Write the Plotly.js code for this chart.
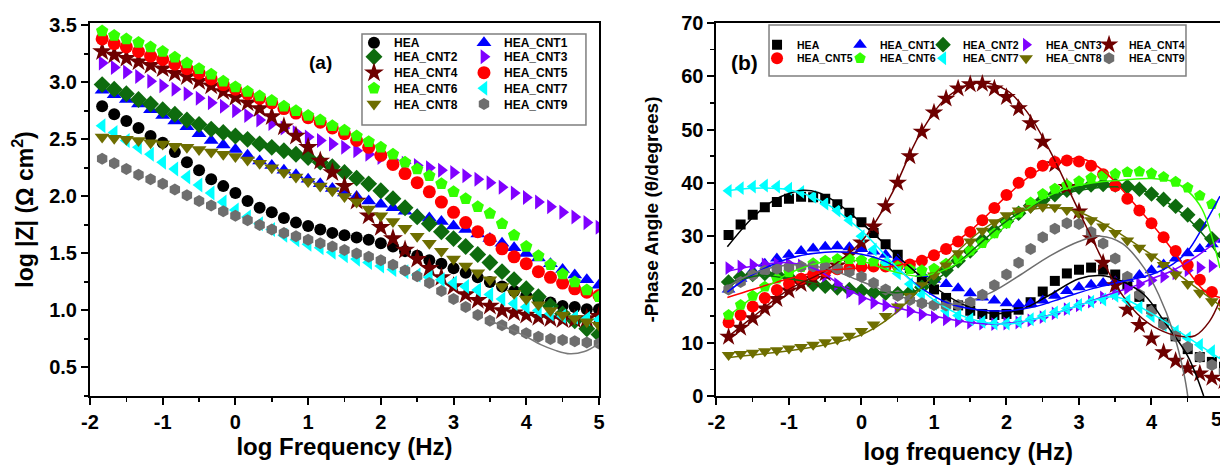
<!DOCTYPE html>
<html><head><meta charset="utf-8">
<script src="https://cdn.plot.ly/plotly-3.0.1.min.js"></script>
<style>html,body{margin:0;padding:0;background:#fff}#chart{width:1220px;height:465px}</style>
</head><body><div id="chart"></div>
<script>
// ---------- shared frequency grid (log Hz) ----------
const logF = [-1.833,-1.667,-1.5,-1.333,-1.167,-1.0,-0.833,-0.667,-0.5,-0.333,-0.167,0,
  0.167,0.333,0.5,0.667,0.833,1.0,1.167,1.333,1.5,1.667,1.833,2.0,2.167,2.333,2.5,2.667,
  2.833,3.0,3.167,3.333,3.5,3.667,3.833,4.0,4.167,4.333,4.5,4.667,4.833,5.0];

const seriesNames = ['HEA','HEA_CNT1','HEA_CNT2','HEA_CNT3','HEA_CNT4','HEA_CNT5','HEA_CNT6','HEA_CNT7','HEA_CNT8','HEA_CNT9'];

// ---------- panel (a): log |Z| ----------
const zHEA  = [2.79,2.72,2.66,2.60,2.53,2.47, 2.39,2.30,2.23,2.15,2.09,2.03, 1.96,1.90,1.86,1.81,1.77,1.74, 1.71,1.68,1.66,1.64,1.62,1.59, 1.56,1.52,1.48,1.44,1.41,1.37, 1.33,1.29,1.25,1.21,1.17,1.13, 1.10,1.07,1.04,1.03,1.01,1.01];
const zCNT1 = [2.93,2.89,2.85,2.81,2.76,2.71, 2.66,2.61,2.55,2.49,2.45,2.41, 2.36,2.31,2.27,2.23,2.19,2.15, 2.11,2.07,2.03,2.00,1.96,1.93, 1.90,1.87,1.84,1.81,1.78,1.74, 1.71,1.67,1.63,1.59,1.55,1.50, 1.46,1.41,1.36,1.31,1.27,1.22];
const zCNT2 = [2.98,2.94,2.90,2.85,2.81,2.76, 2.72,2.67,2.63,2.59,2.56,2.53, 2.50,2.46,2.43,2.40,2.37,2.34, 2.30,2.26,2.21,2.16,2.11,2.05, 1.98,1.90,1.82,1.76,1.69,1.63, 1.56,1.49,1.42,1.34,1.27,1.19, 1.12,1.04,0.97,0.91,0.84,0.79];
const zCNT3 = [3.17,3.13,3.09,3.05,3.01,2.97, 2.94,2.90,2.86,2.82,2.79,2.75, 2.71,2.67,2.64,2.60,2.56,2.52, 2.49,2.46,2.43,2.40,2.37,2.34, 2.32,2.29,2.27,2.25,2.23,2.21, 2.18,2.15,2.12,2.08,2.03,1.99, 1.95,1.91,1.86,1.82,1.77,1.73];
const zCNT4 = [3.27,3.24,3.21,3.18,3.15,3.12, 3.08,3.05,3.01,2.97,2.92,2.87, 2.82,2.77,2.70,2.61,2.53,2.43, 2.31,2.21,2.09,1.96,1.83,1.73, 1.63,1.53,1.45,1.37,1.29,1.21, 1.14,1.09,1.04,1.00,0.98,0.96, 0.94,0.93,0.92,0.92,0.93,0.95];
const zCNT5 = [3.38,3.34,3.31,3.27,3.23,3.20, 3.16,3.12,3.08,3.03,2.98,2.94, 2.90,2.86,2.82,2.77,2.73,2.69, 2.65,2.60,2.55,2.49,2.43,2.36, 2.28,2.20,2.12,2.04,1.95,1.86, 1.77,1.69,1.62,1.54,1.47,1.41, 1.34,1.29,1.24,1.19,1.16,1.13];
const zCNT6 = [3.45,3.41,3.38,3.35,3.31,3.27, 3.22,3.17,3.12,3.07,3.01,2.96, 2.92,2.88,2.84,2.79,2.75,2.71, 2.67,2.62,2.58,2.53,2.48,2.43, 2.37,2.30,2.24,2.18,2.11,2.04, 1.98,1.91,1.85,1.76,1.66,1.56, 1.48,1.40,1.32,1.25,1.18,1.12];
const zCNT7 = [2.62,2.56,2.49,2.43,2.37,2.30, 2.24,2.17,2.10,2.03,1.95,1.88, 1.82,1.76,1.71,1.66,1.62,1.58, 1.55,1.51,1.48,1.45,1.42,1.39, 1.36,1.34,1.31,1.29,1.27,1.24, 1.21,1.18,1.14,1.10,1.06,1.03, 1.00,0.97,0.95,0.94,0.93,0.92];
const zCNT8 = [2.52,2.51,2.50,2.49,2.47,2.46, 2.44,2.43,2.41,2.39,2.37,2.35, 2.32,2.29,2.25,2.21,2.17,2.13, 2.09,2.05,2.00,1.95,1.89,1.83, 1.78,1.72,1.65,1.59,1.52,1.45, 1.39,1.33,1.27,1.21,1.15,1.10, 1.05,1.00,0.96,0.93,0.90,0.87];
const zCNT9 = [2.33,2.29,2.24,2.19,2.15,2.11, 2.06,2.01,1.96,1.92,1.87,1.83, 1.79,1.75,1.71,1.68,1.65,1.62, 1.59,1.56,1.53,1.50,1.47,1.44, 1.40,1.35,1.30,1.24,1.17,1.10, 1.03,0.96,0.91,0.87,0.83,0.80, 0.77,0.75,0.74,0.73,0.72,0.71];
// fitted curve visible for HEA_CNT9
const zFit9X = [3.5,3.8,4.0,4.2,4.4,4.6,4.8,5.0];
const zFit9Y = [0.91,0.83,0.77,0.70,0.65,0.62,0.64,0.71];

// ---------- panel (b): -phase angle ----------
const pHEA  = [30.2,32.2,34.0,35.4,36.4,37.0, 37.4,37.3,37.0,36.0,34.4,32.6, 30.6,28.5,26.5,24.0,21.8,20.0, 18.4,17.0,16.0,15.4,15.2,15.4, 16.2,17.6,19.6,21.6,23.0,23.7, 24.1,23.7,22.8,20.8,18.6,16.3, 13.8,11.2,8.8,7.3,6.4,5.5];
const pCNT1 = [20.0,22.0,23.5,24.8,25.8,26.5, 27.2,27.7,28.0,28.1,27.9,27.6, 27.1,26.5,25.6,24.2,22.9,21.8, 21.0,20.2,19.3,18.5,17.9,17.4, 17.2,17.4,17.9,18.8,19.7,20.4, 20.9,21.2,21.5,22.0,22.7,23.6, 24.7,25.8,26.8,27.6,28.5,29.3];
const pCNT2 = [21.4,22.3,22.8,23.0,22.8,22.3, 21.7,21.0,20.6,20.3,20.0,19.7, 19.4,19.3,19.2,19.4,20.4,22.0, 23.6,25.4,27.2,29.2,31.0,32.8, 34.3,35.7,36.8,37.8,38.6,39.2, 39.6,39.7,39.6,39.3,38.8,37.9, 36.9,35.6,34.0,32.0,29.5,26.5];
const pCNT3 = [24.0,24.3,24.6,24.7,24.8,24.8, 24.5,23.8,22.6,21.0,19.5,18.3, 17.5,17.0,16.5,15.9,15.3,14.8, 14.4,14.1,13.8,13.6,13.5,13.6, 13.8,14.2,14.8,15.5,16.3,17.0, 17.7,18.5,19.3,20.2,21.0,21.7, 22.4,23.0,23.6,24.1,24.4,24.6];
const pCNT4 = [11.1,12.8,14.6,16.4,18.2,19.8, 21.0,22.0,23.0,24.5,26.5,28.8, 31.8,35.6,40.0,45.0,49.6,53.2, 55.8,57.7,58.5,58.6,57.7,56.1, 54.0,51.2,47.7,43.5,39.2,34.6, 29.6,25.0,20.8,16.2,13.3,10.8, 8.2,6.6,5.2,4.2,3.4,2.8];
const pCNT5 = [13.8,15.2,16.8,18.4,19.9,21.0, 22.0,22.8,23.4,23.8,24.0,24.2, 24.3,24.3,24.4,24.7,25.4,26.4, 27.6,29.0,30.8,33.0,35.3,37.7, 40.0,41.9,43.2,43.9,44.2,44.0, 43.2,41.6,39.4,37.0,34.8,32.4, 29.8,27.2,24.6,21.8,19.5,17.5];
const pCNT6 = [15.2,17.1,18.8,20.5,22.0,23.2, 24.2,24.9,25.4,25.7,25.7,25.5, 25.2,24.8,24.3,23.8,23.6,23.9, 24.8,25.8,27.3,28.7,30.5,32.4, 34.4,36.3,37.9,38.9,39.6,40.3, 40.9,41.4,41.7,42.0,42.1,41.8, 41.1,40.2,39.1,37.6,36.0,33.8];
const pCNT7 = [38.5,39.0,39.3,39.5,39.3,38.9, 38.3,37.4,36.1,34.8,33.0,30.0, 27.5,25.0,23.0,21.0,19.0,17.3, 16.0,15.1,14.4,13.9,13.6,13.6, 13.9,14.4,15.0,15.7,16.4,17.1, 17.7,18.1,18.8,17.9,16.6,15.0, 13.3,12.1,10.9,9.6,8.4,7.2];
const pCNT8 = [7.7,7.9,8.1,8.4,8.6,8.9, 9.2,9.6,10.1,10.6,11.3,12.2, 13.4,15.0,16.8,18.8,20.8,22.6, 24.5,26.8,29.0,31.0,32.6,33.9, 34.8,35.3,35.5,35.4,34.9,34.2, 33.0,31.8,30.6,29.2,27.8,26.2, 24.6,22.8,21.0,19.4,17.8,16.0];
const pCNT9 = [20.0,21.4,22.7,23.5,23.9,24.2, 24.3,24.3,24.2,23.9,23.3,22.4, 21.2,20.0,18.8,18.0,17.4,17.1, 17.0,17.1,17.6,19.0,20.8,22.8, 25.0,27.6,29.8,31.4,32.4,32.3, 30.8,28.6,25.8,22.4,19.0,16.0, 13.4,11.2,9.2,7.3,5.8,4.6];

// fitted curves in panel (b)
const fHEA_x  = [-1.85,-1.5,-1.2,-1.0,-0.8,-0.6,-0.4,-0.2,0,0.3,0.6,1.0,1.4,1.8,2.2,2.6,3.0,3.3,3.6,3.9,4.2,4.5,4.72];
const fHEA_y  = [28,33.5,36.8,38.0,38.6,38.2,36.8,34.8,32.5,28.8,25.0,20.5,17.2,15.5,16.2,19.0,22.0,22.6,21.5,19.0,13.5,7.5,0];
const fCNT1_x = [-1.85,-1.5,-1.0,-0.5,0,0.4,0.8,1.2,1.6,2.0,2.4,2.8,3.2,3.6,4.0,4.3,4.5,4.7,4.945];
const fCNT1_y = [19.5,22.8,25.8,27.0,26.6,24.8,20.5,17.4,16.2,16.0,16.8,18.5,20.2,21.5,22.8,24.8,27.2,31.5,37.5];
const fCNT2_x = [-1.85,-1.4,-1.0,-0.5,0,0.5,0.8,1.2,1.6,2.0,2.4,2.8,3.2,3.6,4.0,4.4,4.7,4.945];
const fCNT2_y = [21.0,22.6,22.0,20.8,19.8,19.4,20.0,23.5,28.2,32.8,36.0,38.0,39.0,39.2,38.0,34.5,30.5,26.0];
const fCNT3_x = [-1.85,-1.4,-1.0,-0.6,-0.2,0.2,0.6,1.0,1.4,1.8,2.2,2.6,3.0,3.4,3.8,4.0,4.3,4.6,4.945];
const fCNT3_y = [23.4,24.6,25.0,23.6,20.0,17.6,16.2,15.0,14.0,13.5,13.9,15.2,17.0,19.0,20.8,22.0,23.6,26.0,29.5];
const fCNT4_x = [-1.85,-1.5,-1.0,-0.5,0,0.4,0.8,1.2,1.6,2.0,2.3,2.6,2.9,3.2,3.5,3.8,4.1,4.4,4.6,4.8,4.945];
const fCNT4_y = [11.0,14.8,20.0,23.5,29.0,37.5,49.0,56.3,58.8,57.4,53.0,46.0,37.5,29.0,21.0,15.5,12.5,11.2,11.3,14.0,18.0];
const fCNT5_x = [-1.85,-1.5,-1.0,-0.5,0,0.5,1.0,1.5,2.0,2.4,2.8,3.1,3.4,3.8,4.2,4.5,4.75,4.945];
const fCNT5_y = [18.5,20.0,22.0,23.5,24.0,24.5,26.5,31.0,37.5,42.0,44.3,44.3,41.5,35.5,29.0,23.5,19.5,18.5];
const fCNT6_x = [-1.85,-1.5,-1.0,-0.5,0,0.4,0.8,1.2,1.6,2.0,2.4,2.8,3.2,3.6,4.0,4.3,4.5,4.7,4.945];
const fCNT6_y = [14.8,18.5,23.0,25.2,25.3,23.5,22.5,24.0,27.5,32.0,36.2,38.8,40.0,40.5,40.8,40.2,38.5,35.0,24.0];
const fCNT7_x = [-1.85,-1.5,-1.0,-0.5,0,0.5,1.0,1.5,2.0,2.5,3.0,3.5,4.0,4.5,4.945];
const fCNT7_y = [38.5,39.0,38.7,36.2,31.0,24.0,18.0,14.5,13.5,14.8,17.0,18.6,15.5,11.0,7.0];
const fCNT8_x = [-1.85,-1.0,-0.5,0,0.4,0.8,1.2,1.6,2.0,2.5,3.0,3.5,4.0,4.5,4.945];
const fCNT8_y = [7.2,8.5,9.6,11.5,14.8,20.0,25.5,30.5,33.8,35.3,34.5,31.0,26.5,21.5,17.0];
const fCNT9_x = [-1.85,-1.5,-1.0,-0.5,0,0.5,1.0,1.4,1.8,2.2,2.6,3.0,3.3,3.6,3.9,4.1,4.3,4.45,4.5];
const fCNT9_y = [20.5,23.0,24.6,24.0,21.5,18.8,17.2,17.5,19.5,22.8,26.3,29.0,30.0,28.6,24.0,19.0,12.0,4.0,0];

// tick labels
const xTickVals = [-2,-1,0,1,2,3,4,5];
const xTickText = ['-2','-1','0','1','2','3','4','5'];
const yaTickVals = [0.5,1.0,1.5,2.0,2.5,3.0,3.5];
const yaTickText = ['0.5','1.0','1.5','2.0','2.5','3.0','3.5'];
const ybTickVals = [0,10,20,30,40,50,60,70];
const ybTickText = ['0','10','20','30','40','50','60','70'];

// ---------- styles ----------
const colors = ['#000000','#0000FF','#0E6B0E','#8000FF','#6E0000','#FF0000','#33FF00','#00FFFF','#6E6E00','#6E6E6E'];
const symA = ['circle','triangle-up','diamond','triangle-right','star','circle','pentagon','triangle-left','triangle-down','hexagon'];
const symB = ['square','triangle-up','diamond','triangle-right','star','circle','pentagon','triangle-left','triangle-down','hexagon'];
const sizeA = [12,13,13,13,15,13,13,13,13,12];
const sizeB = [10,12,12,12,14,12,12,12,12,12];
const legA = ['legend','legend','legend2','legend2','legend3','legend3','legend4','legend4','legend5','legend5'];
const legB = ['legend6','legend6','legend6','legend6','legend6','legend7','legend7','legend7','legend7','legend7'];

const zData = [zHEA,zCNT1,zCNT2,zCNT3,zCNT4,zCNT5,zCNT6,zCNT7,zCNT8,zCNT9];
const pData = [pHEA,pCNT1,pCNT2,pCNT3,pCNT4,pCNT5,pCNT6,pCNT7,pCNT8,pCNT9];
const fitX = [fHEA_x,fCNT1_x,fCNT2_x,fCNT3_x,fCNT4_x,fCNT5_x,fCNT6_x,fCNT7_x,fCNT8_x,fCNT9_x];
const fitY = [fHEA_y,fCNT1_y,fCNT2_y,fCNT3_y,fCNT4_y,fCNT5_y,fCNT6_y,fCNT7_y,fCNT8_y,fCNT9_y];

function mk(i, sym, size){
  return {symbol: sym, size: size, color: colors[i], line:{width:0}};
}

const traces = [];
for(let i=0;i<10;i++){
  traces.push({x:logF, y:zData[i], xaxis:'x', yaxis:'y', mode:'markers', name:seriesNames[i],
    marker: mk(i, symA[i], sizeA[i]), legend: legA[i], hoverinfo:'skip'});
}
traces.push({x:zFit9X, y:zFit9Y, xaxis:'x', yaxis:'y', mode:'lines', line:{color:'#7a7a7a', width:1.5, shape:'spline'}, showlegend:false, hoverinfo:'skip'});
for(let i=0;i<10;i++){
  const t = {x:logF, y:pData[i], xaxis:'x2', yaxis:'y2', mode:'markers', name:seriesNames[i],
    marker: mk(i, symB[i], sizeB[i]), legend: legB[i], hoverinfo:'skip'};
  if(i===4 || i===9){ t.legendwidth = 66; }
  traces.push(t);
}
for(let i=0;i<10;i++){
  traces.push({x:fitX[i], y:fitY[i], xaxis:'x2', yaxis:'y2', mode:'lines', showlegend:false,
    line:{color: colors[i], width:1.5, shape:'spline', smoothing:1}, hoverinfo:'skip'});
}

const FONT = 'Liberation Sans, Arial, Helvetica, sans-serif';
const tickFont = {family: FONT, size: 20, color:'#000', weight:'bold'};
function axisBase(){
  return {showline:true, linewidth:2, linecolor:'#000', showgrid:false, zeroline:false,
    ticks:'outside', ticklen:7, tickwidth:2, tickcolor:'#000', tickfont: tickFont, tickmode:'array'};
}
const xa = Object.assign(axisBase(), {domain:[0,0.4504], range:[-2,5], anchor:'y', mirror:true,
  tickvals:xTickVals, ticktext:xTickText,
  minor:{tickmode:'linear', tick0:-1.5, dtick:1, ticks:'outside', ticklen:4, tickwidth:1.5, tickcolor:'#000', showgrid:false},
  title:{text:'log Frequency (Hz)', font:{family:FONT, size:24, weight:'bold', color:'#000'}, standoff:0}});
const ya = Object.assign(axisBase(), {domain:[0,1], range:[0.25,3.52], anchor:'x', mirror:true,
  tickvals:yaTickVals, ticktext:yaTickText,
  minor:{tickmode:'linear', tick0:0.25, dtick:0.5, ticks:'outside', ticklen:4, tickwidth:1.5, tickcolor:'#000', showgrid:false},
  title:{text:'log |Z| (Ω cm<sup>2</sup>)', font:{family:FONT, size:23, weight:'bold', color:'#000'}, standoff:9}});
const xb = Object.assign(axisBase(), {domain:[0.5544,1], range:[-2,4.945], anchor:'y2', mirror:true,
  tickvals:xTickVals, ticktext:xTickText,
  minor:{tickmode:'linear', tick0:-1.5, dtick:1, ticks:'outside', ticklen:4, tickwidth:1.5, tickcolor:'#000', showgrid:false},
  title:{text:'log frequency (Hz)', font:{family:FONT, size:24, weight:'bold', color:'#000'}, standoff:14}});
const yb = Object.assign(axisBase(), {domain:[0,1], range:[0,70], anchor:'x2', mirror:false,
  tickvals:ybTickVals, ticktext:ybTickText,
  minor:{tickmode:'linear', tick0:5, dtick:10, ticks:'outside', ticklen:4, tickwidth:1.5, tickcolor:'#000', showgrid:false},
  title:{text:'-Phase Angle (θ/degrees)', font:{family:FONT, size:19, weight:'bold', color:'#000'}, standoff:18}});

function legendRow(x, y, ew, fs){
  return {orientation:'h', x:x, xanchor:'left', y:y, yanchor:'middle', bgcolor:'rgba(0,0,0,0)',
    borderwidth:0, entrywidth:ew, entrywidthmode:'pixels', itemclick:false, itemdoubleclick:false,
    font:{family:FONT, size:fs, color:'#000', weight:'bold'}};
}

const layout = {
  width:1220, height:465, margin:{l:90, r:0, t:23, b:69, pad:0},
  paper_bgcolor:'#ffffff', plot_bgcolor:'#ffffff',
  font:{family:FONT, color:'#000'},
  xaxis:xa, yaxis:ya, xaxis2:xb, yaxis2:yb,
  showlegend:true,
  legend:  legendRow(0.2336, 0.9472, 65, 12),
  legend2: legendRow(0.2336, 0.9097, 65, 12),
  legend3: legendRow(0.2336, 0.8668, 65, 12),
  legend4: legendRow(0.2336, 0.8249, 65, 12),
  legend5: legendRow(0.2336, 0.7828, 65, 12),
  legend6: legendRow(0.5903, 0.9420, 38, 10.5),
  legend7: legendRow(0.5903, 0.9055, 38, 10.5),
  shapes:[
    {type:'rect', xref:'paper', yref:'paper', x0:0.2407, x1:0.4389, y0:0.7265, y1:0.9705,
      line:{color:'#7f7f7f', width:1.5}, fillcolor:'#ffffff', layer:'below'},
    {type:'rect', xref:'paper', yref:'paper', x0:0.6009, x1:0.9699, y0:0.8579, y1:0.9946,
      line:{color:'#7f7f7f', width:1.5}, fillcolor:'#ffffff', layer:'below'}
  ],
  annotations:[
    {text:'(a)', xref:'paper', yref:'paper', x:0.192, y:0.9276, showarrow:false,
      font:{family:FONT, size:19, weight:'bold', color:'#000'}},
    {text:'(b)', xref:'paper', yref:'paper', x:0.5788, y:0.9303, showarrow:false,
      font:{family:FONT, size:21, weight:'bold', color:'#000'}},
    {text:'5', xref:'paper', yref:'paper', x:1.0035, y:-0.026, yanchor:'top', showarrow:false,
      font:{family:FONT, size:20, weight:'bold', color:'#000'}}
  ]
};

Plotly.newPlot('chart', traces, layout, {staticPlot:true, displayModeBar:false});
</script></body></html>
